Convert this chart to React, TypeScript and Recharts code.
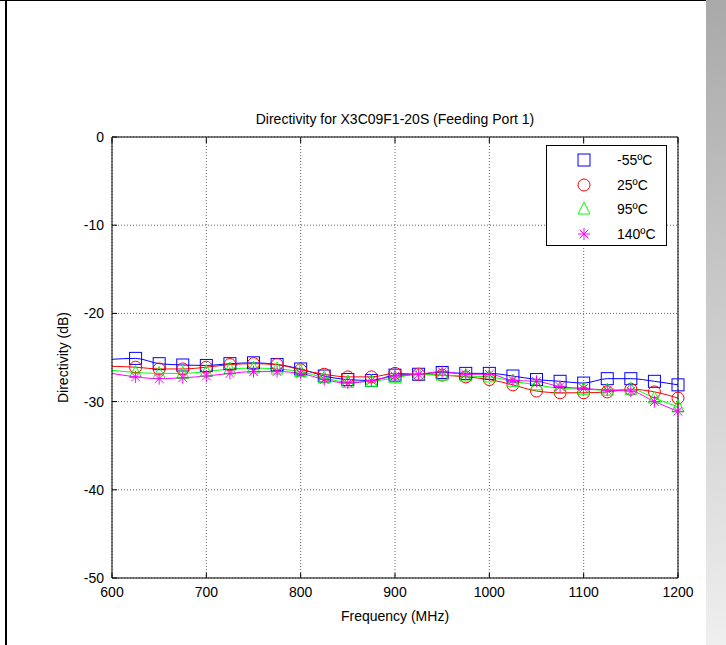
import React from 'react';
import { LineChart, Line, XAxis, YAxis, CartesianGrid, Legend } from 'recharts';

const frequencies = [600, 625, 650, 675, 700, 725, 750, 775, 800, 825, 850, 875, 900, 925, 950, 975, 1000, 1025, 1050, 1075, 1100, 1125, 1150, 1175, 1200];
const minus55 = [-25.2, -25.1, -25.7, -25.85, -25.9, -25.7, -25.6, -25.8, -26.3, -27.1, -27.5, -27.6, -27.0, -26.9, -26.7, -26.8, -26.8, -27.1, -27.5, -27.7, -27.9, -27.4, -27.4, -27.7, -28.1];
const plus25 = [-26.0, -26.1, -26.3, -26.3, -26.1, -25.8, -25.7, -25.8, -26.4, -26.9, -27.2, -27.2, -26.8, -26.9, -27.0, -27.2, -27.5, -28.1, -28.8, -29.0, -29.0, -28.9, -28.6, -28.9, -29.6];
const plus95 = [-26.45, -26.7, -26.8, -26.8, -26.6, -26.3, -26.2, -26.3, -26.6, -27.3, -27.8, -27.7, -27.3, -26.9, -27.0, -27.1, -27.2, -27.7, -28.1, -28.5, -28.6, -28.7, -28.6, -29.6, -30.6];
const plus140 = [-26.8, -27.2, -27.4, -27.3, -27.1, -26.8, -26.6, -26.6, -26.8, -27.5, -27.9, -27.6, -27.1, -26.9, -26.6, -26.9, -26.9, -27.6, -27.7, -28.3, -28.5, -28.7, -28.8, -30.0, -31.1];

const xTicks = [600, 700, 800, 900, 1000, 1100, 1200];
const yTicks = [-50, -40, -30, -20, -10, 0];
const titleText = 'Directivity for X3C09F1-20S (Feeding Port 1)';
const xLabel = 'Frequency (MHz)';
const yLabel = 'Directivity (dB)';

const seriesInfo = [
  { key: 'm55', name: '-55ºC', color: '#0000ff', shape: 'square' },
  { key: 'p25', name: '25ºC', color: '#ff0000', shape: 'circle' },
  { key: 'p95', name: '95ºC', color: '#00ff00', shape: 'triangle' },
  { key: 'p140', name: '140ºC', color: '#ff00ff', shape: 'star' },
];

const data = frequencies.map((f, i) => ({
  freq: f,
  m55: minus55[i],
  p25: plus25[i],
  p95: plus95[i],
  p140: plus140[i],
}));

const FONT = '"Liberation Sans", Arial, sans-serif';

function Marker({ shape, color, cx, cy }: { shape: string; color: string; cx: number; cy: number }) {
  const s = 6;
  if (shape === 'square') {
    return <rect x={cx - s} y={cy - s} width={2 * s} height={2 * s} fill="none" stroke={color} strokeWidth={1} />;
  }
  if (shape === 'circle') {
    return <circle cx={cx} cy={cy} r={s} fill="none" stroke={color} strokeWidth={1} />;
  }
  if (shape === 'triangle') {
    return (
      <polygon
        points={`${cx},${cy - s - 1} ${cx - s},${cy + s - 1} ${cx + s},${cy + s - 1}`}
        fill="none"
        stroke={color}
        strokeWidth={1}
      />
    );
  }
  const d = s * 0.72;
  return (
    <g stroke={color} strokeWidth={1}>
      <line x1={cx - s} y1={cy} x2={cx + s} y2={cy} />
      <line x1={cx} y1={cy - s} x2={cx} y2={cy + s} />
      <line x1={cx - d} y1={cy - d} x2={cx + d} y2={cy + d} />
      <line x1={cx - d} y1={cy + d} x2={cx + d} y2={cy - d} />
    </g>
  );
}

const makeDot = (shape: string, color: string) => (props: any) => {
  const { cx, cy, payload, index } = props;
  if (cx == null || cy == null || payload.freq === frequencies[0]) return <g key={`d${index}`} />;
  return (
    <g key={`d${index}`}>
      <Marker shape={shape} color={color} cx={cx} cy={cy} />
    </g>
  );
};

const TICK_LEN = 5;
const BottomTick = (props: any) => {
  const { x, y, payload } = props;
  return (
    <g>
      <line x1={x} x2={x} y1={y - 9} y2={y - 9 - TICK_LEN} stroke="#000" />
      <text x={x} y={y} dy="0.71em" textAnchor="middle" fontSize={14} fontFamily={FONT} fill="#000">
        {payload.value}
      </text>
    </g>
  );
};
const TopTick = (props: any) => {
  const { x, y } = props;
  return <line x1={x} x2={x} y1={y + 2} y2={y + 2 + TICK_LEN} stroke="#000" />;
};
const LeftTick = (props: any) => {
  const { x, y, payload } = props;
  return (
    <g>
      <line x1={x + 8} x2={x + 8 + TICK_LEN} y1={y} y2={y} stroke="#000" />
      <text x={x} y={y} dy="0.355em" textAnchor="end" fontSize={14} fontFamily={FONT} fill="#000">
        {payload.value}
      </text>
    </g>
  );
};
const RightTick = (props: any) => {
  const { x, y } = props;
  return <line x1={x - 2} x2={x - 2 - TICK_LEN} y1={y} y2={y} stroke="#000" />;
};

const LegendBox = () => (
  <div
    style={{
      width: 121,
      height: 101,
      border: '1px solid #000',
      background: '#fff',
      boxSizing: 'border-box',
      fontFamily: FONT,
      fontSize: 14,
      color: '#000',
      paddingTop: 2,
    }}
  >
    {seriesInfo.map((s) => (
      <div key={s.key} style={{ display: 'flex', alignItems: 'center', height: 24.5 }}>
        <svg width={70} height={20} style={{ display: 'block' }}>
          <Marker shape={s.shape} color={s.color} cx={37} cy={10} />
        </svg>
        <span>{s.name}</span>
      </div>
    ))}
  </div>
);

export default function App() {
  return (
    <div style={{ position: 'absolute', left: 0, top: 0, width: 726, height: 645, background: '#fff', overflow: 'hidden' }}>
      <div style={{ position: 'absolute', left: 0, top: 0 }}>
        <LineChart
          width={726}
          height={645}
          data={data}
          margin={{ top: 136, right: 47, bottom: 37, left: 52 }}
          style={{ fontFamily: FONT }}
        >
          <CartesianGrid stroke="#666" strokeDasharray="1 2" xAxisId="bottom" yAxisId="left" />
          <XAxis
            xAxisId="bottom"
            dataKey="freq"
            type="number"
            domain={[600, 1200]}
            ticks={xTicks}
            height={30}
            tickSize={0}
            tickMargin={9}
            tick={<BottomTick />}
            axisLine={{ stroke: '#000' }}
            tickLine={false}
            interval={0}
            label={{ value: xLabel, position: 'bottom', offset: 3, fontSize: 14, fill: '#000', fontFamily: FONT }}
          />
          <XAxis
            xAxisId="top"
            orientation="top"
            dataKey="freq"
            type="number"
            domain={[600, 1200]}
            ticks={xTicks}
            height={1}
            tickSize={0}
            tickMargin={1}
            tick={<TopTick />}
            axisLine={{ stroke: '#000' }}
            tickLine={false}
            interval={0}
            label={{ value: titleText, position: 'top', offset: 12, fontSize: 14, fill: '#000', fontFamily: FONT }}
          />
          <YAxis
            yAxisId="left"
            type="number"
            domain={[-50, 0]}
            ticks={yTicks}
            width={60}
            tickSize={0}
            tickMargin={8}
            tick={<LeftTick />}
            axisLine={{ stroke: '#000' }}
            tickLine={false}
            interval={0}
            label={{
              value: yLabel,
              angle: -90,
              position: 'insideLeft',
              offset: 11,
              fontSize: 14,
              fill: '#000',
              fontFamily: FONT,
              style: { textAnchor: 'middle' },
            }}
          />
          <YAxis
            yAxisId="right"
            orientation="right"
            type="number"
            domain={[-50, 0]}
            ticks={yTicks}
            width={1}
            tickSize={0}
            tickMargin={-1}
            tick={<RightTick />}
            axisLine={{ stroke: '#000' }}
            tickLine={false}
            interval={0}
          />
          {seriesInfo.map((s) => (
            <Line
              key={s.key}
              xAxisId="bottom"
              yAxisId="left"
              dataKey={s.key}
              name={s.name}
              type="monotone"
              stroke={s.color}
              strokeWidth={1}
              dot={makeDot(s.shape, s.color)}
              activeDot={false}
              isAnimationActive={false}
            />
          ))}
          <Legend
            layout="horizontal"
            verticalAlign="middle"
            align="center"
            content={<LegendBox />}
            wrapperStyle={{ left: 546, top: 145, width: 122, height: 102 }}
          />
        </LineChart>
      </div>
      <div style={{ position: 'absolute', left: 0, top: 0, width: 706, height: 1, background: '#000' }} />
      <div style={{ position: 'absolute', left: 5, top: 0, width: 2, height: 645, background: '#000' }} />
      <div
        style={{
          position: 'absolute',
          left: 706,
          top: 0,
          width: 20,
          height: 645,
          background: 'linear-gradient(#a9a9a9, #efefef)',
        }}
      />
    </div>
  );
}
